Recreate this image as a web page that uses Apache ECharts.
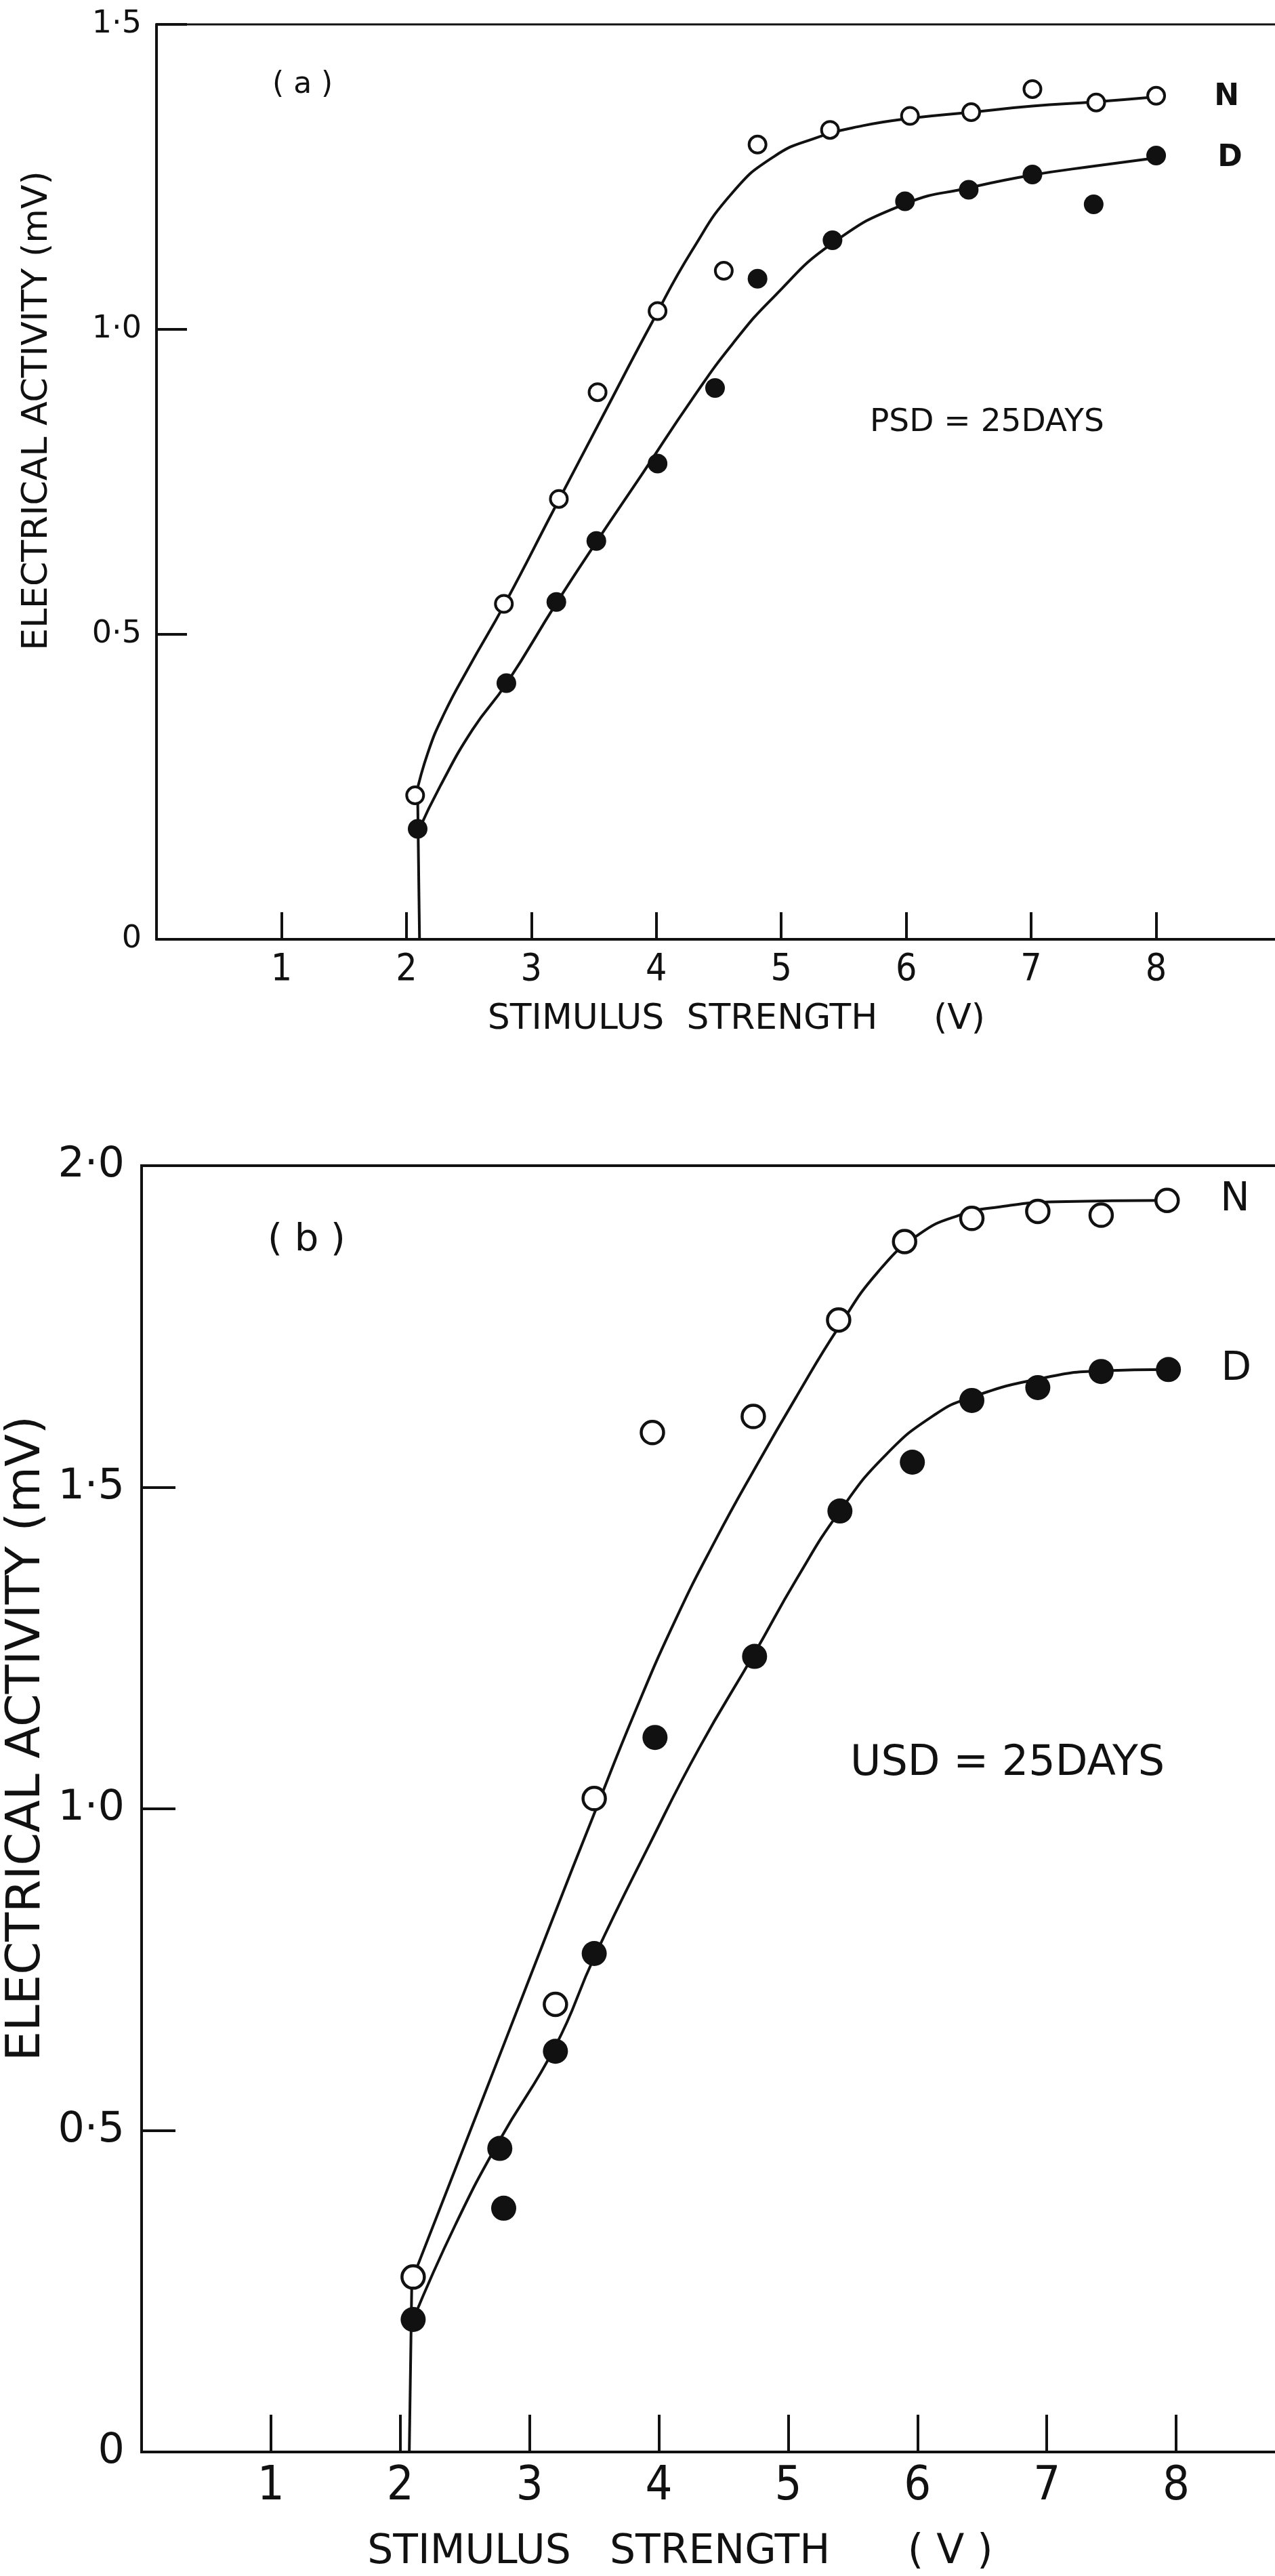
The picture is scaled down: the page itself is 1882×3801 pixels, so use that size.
<!DOCTYPE html>
<html>
<head>
<meta charset="utf-8">
<script src="https://cdn.jsdelivr.net/npm/echarts@6/dist/echarts.min.js"></script>
<style>
  html, body { margin: 0; padding: 0; background: #fff; }
  #chart { width: 1882px; height: 3801px; }
</style>
</head>
<body>
<div id="chart"></div>
<script>
// ---------- Panel (a): PSD = 25 days ----------
const aNormalPoints = [[2.07,0.236],[2.78,0.55],[3.22,0.722],[3.53,0.897],[4.01,1.03],[4.54,1.096],[4.81,1.303],[5.39,1.327],[6.03,1.35],[6.52,1.356],[7.01,1.394],[7.52,1.372],[8.0,1.383]];
const aDenervPoints = [[2.09,0.181],[2.80,0.42],[3.20,0.553],[3.52,0.653],[4.01,0.78],[4.47,0.904],[4.81,1.083],[5.41,1.146],[5.99,1.21],[6.50,1.229],[7.01,1.254],[7.50,1.205],[8.0,1.285]];
const aNormalCurve = [[2.074,0.234],[2.172,0.306],[2.302,0.370],[2.497,0.445],[2.790,0.551],[3.181,0.705],[3.572,0.858],[3.962,1.010],[4.288,1.130],[4.613,1.225],[4.939,1.283],[5.264,1.313],[5.655,1.334],[6.032,1.346],[6.521,1.356],[7.009,1.366],[7.517,1.373],[7.998,1.381]];
const aDenervCurve = [[2.094,0.177],[2.270,0.251],[2.530,0.344],[2.803,0.420],[3.200,0.551],[3.519,0.651],[3.897,0.766],[4.288,0.886],[4.613,0.977],[4.939,1.053],[5.408,1.141],[5.994,1.206],[6.502,1.232],[7.009,1.253],[7.517,1.268],[7.998,1.281]];
const aDropLine = [[2.105,0],[2.09,0.236]];

// ---------- Panel (b): USD = 25 days ----------
const bNormalPoints = [[2.10,0.272],[3.20,0.696],[3.50,1.016],[3.95,1.585],[4.73,1.61],[5.39,1.76],[5.90,1.882],[6.42,1.918],[6.93,1.929],[7.42,1.923],[7.93,1.946]];
const bDenervPoints = [[2.10,0.206],[2.77,0.472],[2.80,0.379],[3.20,0.623],[3.50,0.775],[3.97,1.111],[4.74,1.237],[5.40,1.463],[5.96,1.539],[6.42,1.635],[6.93,1.655],[7.42,1.68],[7.94,1.683]];
const bNormalCurve = [[2.100,0.272],[2.426,0.440],[2.804,0.635],[3.181,0.830],[3.495,0.990],[3.810,1.148],[4.124,1.292],[4.438,1.418],[4.753,1.533],[5.067,1.642],[5.388,1.748],[5.695,1.835],[6.009,1.893],[6.323,1.923],[6.637,1.936],[7.077,1.944],[7.933,1.946]];
const bDenervCurve = [[2.100,0.206],[2.426,0.353],[2.766,0.484],[3.200,0.631],[3.502,0.770],[3.936,0.948],[4.313,1.095],[4.740,1.242],[5.067,1.358],[5.400,1.463],[5.758,1.551],[6.135,1.613],[6.418,1.640],[6.928,1.668],[7.417,1.681],[7.939,1.683]];
const bDropLine = [[2.07,0],[2.09,0.272]];

// ---------- Tick labels & texts ----------
const xTickLabels = ['', '1', '2', '3', '4', '5', '6', '7', '8', ''];
const yTickLabelsA = ['0', '0·5', '1·0', '1·5'];
const yTickLabelsB = ['0', '0·5', '1·0', '1·5', '2·0'];
const yAxisTitle = 'ELECTRICAL ACTIVITY (mV)';
const xAxisTitleA = 'STIMULUS  STRENGTH     (V)';
const xAxisTitleB = 'STIMULUS   STRENGTH      ( V )';
const seriesNames = ['N', 'D'];
const panelLabels = ['( a )', '( b )'];
const conditionLabels = ['PSD = 25DAYS', 'USD = 25DAYS'];

const INK = '#111';
const FONT = "'DejaVu Sans', sans-serif";
const NARROW = "'Liberation Sans Narrow', 'DejaVu Sans Condensed', sans-serif";

function xAxisCfg(gridIndex, tickLen, fontSize, margin, name, nameSize, nameGap, namePad) {
  return {
    type: 'value', gridIndex, min: 0, max: 9, interval: 1,
    axisLine: { show: true, onZero: false, lineStyle: { color: INK, width: 4 } },
    axisTick: { show: true, inside: true, length: tickLen, lineStyle: { color: INK, width: 4 } },
    splitLine: { show: false },
    axisLabel: {
      show: true, margin, color: INK, fontSize, fontFamily: NARROW,
      formatter: v => xTickLabels[Math.round(v)] || ''
    },
    name, nameLocation: 'middle', nameGap,
    nameTextStyle: { color: INK, fontSize: nameSize, fontFamily: FONT, padding: namePad }
  };
}
function yAxisCfg(gridIndex, max, labels, tickLen, fontSize, margin, nameSize, nameGap, namePad) {
  return {
    type: 'value', gridIndex, min: 0, max, interval: 0.5,
    axisLine: { show: true, onZero: false, lineStyle: { color: INK, width: 4 } },
    axisTick: { show: true, inside: true, length: tickLen, lineStyle: { color: INK, width: 4 } },
    splitLine: { show: false },
    axisLabel: {
      show: true, margin, color: INK, fontSize, fontFamily: FONT,
      formatter: v => labels[Math.round(v / 0.5)] || ''
    },
    name: yAxisTitle, nameLocation: 'middle', nameRotate: 90, nameGap,
    nameTextStyle: { color: INK, fontSize: nameSize, fontFamily: FONT, padding: namePad }
  };
}
function curve(name, data, axis, endText, dist, fontSize, bold) {
  return {
    name, type: 'line', data, xAxisIndex: axis, yAxisIndex: axis,
    smooth: 0.5, symbol: 'none', z: 2,
    lineStyle: { color: INK, width: 4 },
    endLabel: endText ? {
      show: true, formatter: endText, distance: dist, color: INK,
      fontSize, fontFamily: FONT, fontWeight: bold ? 'bold' : 'normal'
    } : undefined
  };
}
function drop(data, axis) {
  return { type: 'line', data, xAxisIndex: axis, yAxisIndex: axis, symbol: 'none', z: 2,
    lineStyle: { color: INK, width: 4 } };
}
function points(name, data, axis, open, size, border) {
  return {
    name, type: 'scatter', data, xAxisIndex: axis, yAxisIndex: axis, z: 5,
    symbol: 'circle', symbolSize: size,
    itemStyle: open ? { color: '#fff', borderColor: INK, borderWidth: border, opacity: 1 }
                    : { color: INK, opacity: 1 }
  };
}

const chart = echarts.init(document.getElementById('chart'), null, { renderer: 'canvas' });
chart.setOption({
  animation: false,
  backgroundColor: '#fff',
  grid: [
    { left: 231, top: 36, right: -9, bottom: 2415, show: true, borderColor: INK, borderWidth: 3,
      containLabel: false, outerBoundsMode: 'none' },
    { left: 209, top: 1720, right: -45, bottom: 183, show: true, borderColor: INK, borderWidth: 4,
      containLabel: false, outerBoundsMode: 'none' }
  ],
  xAxis: [
    xAxisCfg(0, 40, 55, 18, xAxisTitleA, 52, 92, [0, 0, 0, 52]),
    xAxisCfg(1, 55, 70, 17, xAxisTitleB, 60, 118, [0, 128, 0, 0])
  ],
  yAxis: [
    yAxisCfg(0, 1.5, yTickLabelsA, 45, 46, 22, 52, 150, [0, 0, 0, 210]),
    yAxisCfg(1, 2.0, yTickLabelsB, 50, 62, 25, 70, 132, [0, 0, 0, 208])
  ],
  graphic: [
    { type: 'text', left: 402, top: 104, style: { text: panelLabels[0], fill: INK, font: "44px 'DejaVu Sans'" } },
    { type: 'text', left: 1284, top: 600, style: { text: conditionLabels[0], fill: INK, font: "47px 'DejaVu Sans'" } },
    { type: 'text', left: 395, top: 1802, style: { text: panelLabels[1], fill: INK, font: "56px 'DejaVu Sans'" } },
    { type: 'text', left: 1255, top: 2572, style: { text: conditionLabels[1], fill: INK, font: "62px 'DejaVu Sans'" } }
  ],
  series: [
    drop(aDropLine, 0),
    curve(seriesNames[0], aNormalCurve, 0, seriesNames[0], 86, 44, true),
    curve(seriesNames[1], aDenervCurve, 0, seriesNames[1], 91, 44, true),
    points(seriesNames[0], aNormalPoints, 0, true, 25, 4),
    points(seriesNames[1], aDenervPoints, 0, false, 29, 0),
    drop(bDropLine, 1),
    curve(seriesNames[0], bNormalCurve, 1, seriesNames[0], 78, 58, false),
    curve(seriesNames[1], bDenervCurve, 1, seriesNames[1], 78, 58, false),
    points(seriesNames[0], bNormalPoints, 1, true, 33, 4.5),
    points(seriesNames[1], bDenervPoints, 1, false, 37, 0)
  ]
});
</script>
</body>
</html>
